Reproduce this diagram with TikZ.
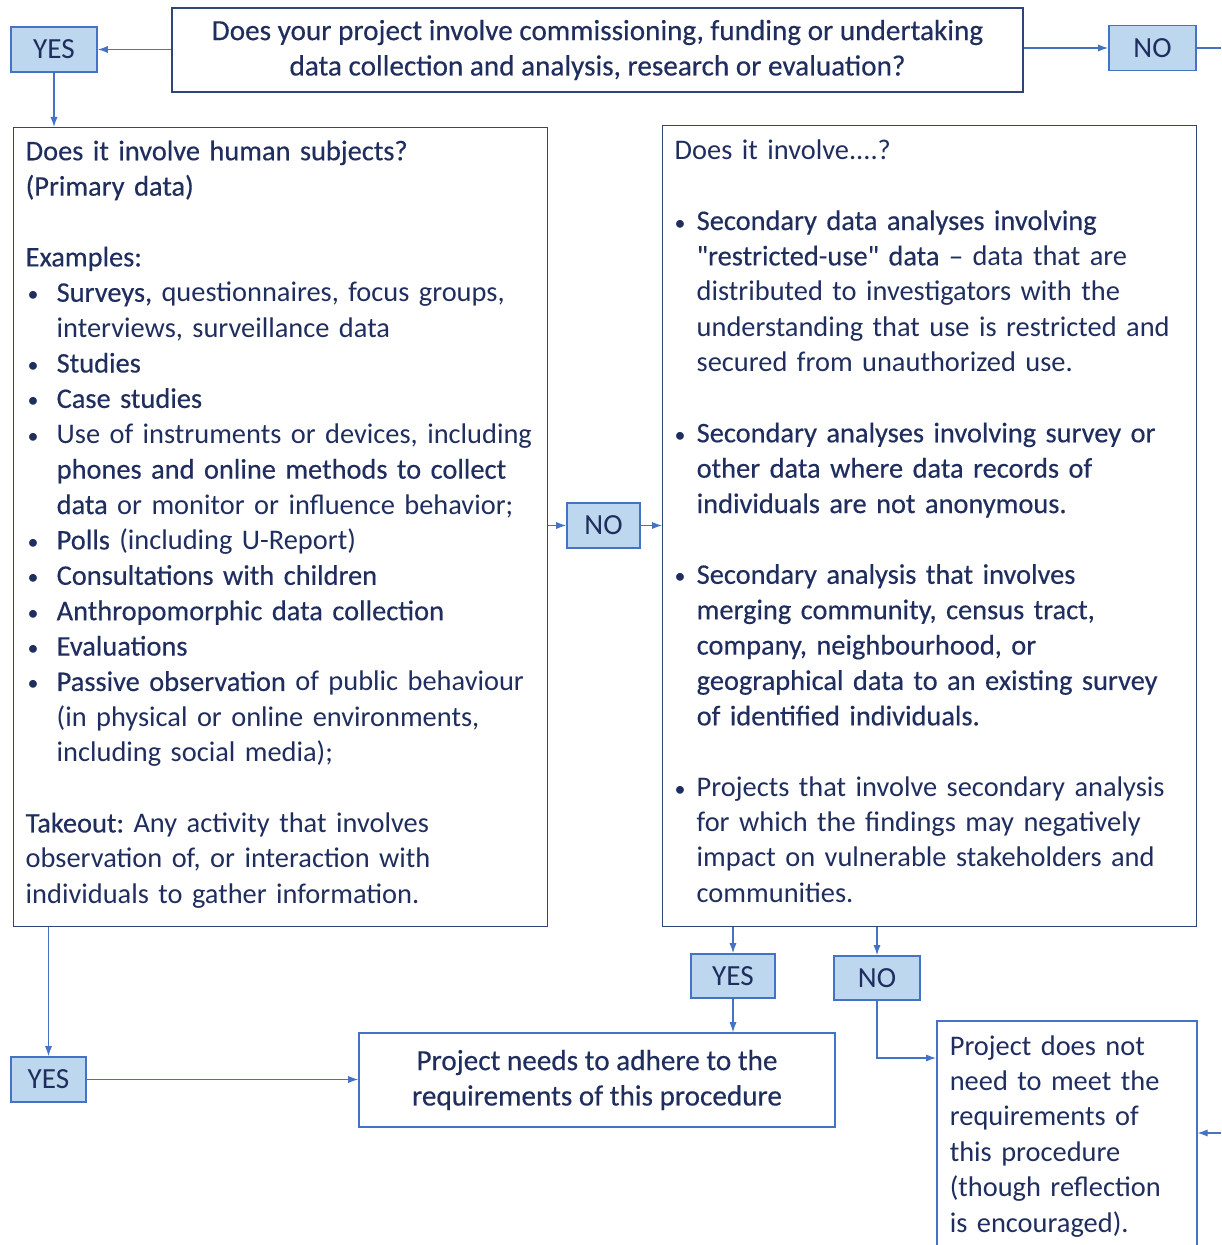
\documentclass[tikz,border=0pt]{standalone}
\usepackage{fontspec}
\setmainfont{Carlito}
\newfontfamily\strongfont[FakeBold=0.35]{Carlito}
\usepackage{xcolor}
\usetikzlibrary{arrows.meta,positioning,calc}

\definecolor{inkblue}{HTML}{1F2E5E}
\definecolor{framenavy}{HTML}{2F4477}
\definecolor{lineblue}{HTML}{4472C4}
\definecolor{answerfill}{HTML}{BDD7EE}

\newcommand{\hl}[1]{{\strongfont #1}}
\newcommand{\bl}[2][15.5pt]{\makebox[#1][l]{\hspace{#2}{\fontsize{11pt}{11pt}\selectfont•}}}
\newcommand{\ind}[1][15.5pt]{\hspace*{#1}}

\begin{document}
\frenchspacing
\fontsize{14.6pt}{17.69pt}\selectfont
\begin{tikzpicture}[
    x=0.5pt, y=-0.5pt,
    every node/.append style={text=inkblue},
    % box styles
    question/.style={rectangle, draw=framenavy, line width=0.7pt, align=center,
        inner sep=0pt, font=\strongfont},
    answer/.style={rectangle, draw=lineblue, fill=answerfill, line width=0.9pt,
        minimum height=22.5pt, inner sep=0pt},
    panel/.style={rectangle, draw=framenavy, line width=0.7pt, anchor=north west,
        align=left, text width=255pt, inner xsep=6pt, inner ysep=0pt,
        font=\fontsize{14.2pt}{17.69pt}\selectfont,
        execute at begin node={\hyphenpenalty=10000\rightskip=-40pt plus 1fil\relax}},
    outcome/.style={rectangle, draw=lineblue, line width=0.8pt},
    % connector styles
    arrow/.style={-{Latex[length=5pt,width=3.6pt]}, draw=lineblue, line width=0.6pt},
    link/.style={draw=lineblue, line width=0.6pt}
]
    \path[use as bounding box, fill=white] (0,0) rectangle (1221,1245);

    % First question and its answers
    \node[question, minimum width=425.5pt, minimum height=42pt] (ask) at (597.5,50)
        {Does your project involve commissioning, funding or undertaking\\
         data collection and analysis, research or evaluation?};
    \node[answer, minimum width=43pt] (yestop) at (54,49.5) {YES};
    \node[answer, minimum width=43.5pt] (notop) at (1152.5,48) {NO};
    \coordinate (offtop) at (1221,48);

    % Primary data
    \node[panel, minimum height=399.5pt] (human) at (13,127) {%
        \hl{Does it involve human subjects?}\\
        \hl{(Primary data)}\\
        \mbox{}\\
        \hl{Examples:}\\
        \bl{1pt}\hl{Surveys,} questionnaires,\ focus groups,\\
        \ind interviews,\ surveillance data\\
        \bl{1pt}\hl{Studies}\\
        \bl{1pt}\hl{Case studies}\\
        \bl{1pt}Use of instruments or devices, including\\
        \ind\hl{phones and online methods to collect}\\
        \ind\hl{data} or monitor or influence behavior;\\
        \bl{1pt}\hl{Polls} (including U-Report)\\
        \bl{1pt}\hl{Consultations with children}\\
        \bl{1pt}\hl{Anthropomorphic data collection}\\
        \bl{1pt}\hl{Evaluations}\\
        \bl{1pt}\hl{Passive observation} of public behaviour\\
        \ind(in physical or online environments,\\
        \ind including social media);\\
        \mbox{}\\
        \hl{Takeout:} Any activity that involves\\
        observation of, or interaction with\\
        individuals to gather information.\strut};

    \node[answer, minimum width=36.5pt] (nomid) at (603.5,525.5) {NO};

    % Secondary data
    \node[panel, minimum height=400.5pt] (involve) at (662,125) {%
        Does it involve....?\\
        \mbox{}\\
        \bl[11pt]{0pt}\hl{Secondary data analyses involving}\\
        \ind[11pt]\hl{"restricted-use" data –} data that are\\
        \ind[11pt]distributed to investigators with the\\
        \ind[11pt]understanding that use is restricted and\\
        \ind[11pt]secured from unauthorized use.\\
        \mbox{}\\
        \bl[11pt]{0pt}\hl{Secondary analyses involving survey or}\\
        \ind[11pt]\hl{other data where data records of}\\
        \ind[11pt]\hl{individuals are not anonymous.}\\
        \mbox{}\\
        \bl[11pt]{0pt}\hl{Secondary analysis that involves}\\
        \ind[11pt]\hl{merging community, census tract,}\\
        \ind[11pt]\hl{company, neighbourhood, or}\\
        \ind[11pt]\hl{geographical data to an existing survey}\\
        \ind[11pt]\hl{of identified individuals.}\\
        \mbox{}\\
        \bl[11pt]{0pt}Projects that involve secondary analysis\\
        \ind[11pt]for which the findings may negatively\\
        \ind[11pt]impact on vulnerable stakeholders and\\
        \ind[11pt]communities.\strut};

    \node[answer, minimum width=42pt, minimum height=22pt] (yesmid) at (733,976) {YES};
    \node[answer, minimum width=43pt, minimum height=22pt] (nobot) at (877,978) {NO};
    \node[answer, minimum width=37.5pt] (yesleft) at (48.5,1079.5) {YES};

    % Outcomes
    \node[outcome, minimum width=238pt, minimum height=47pt, align=center,
        font=\strongfont] (adhere) at (597,1080)
        {Project needs to adhere to the\\ requirements of this procedure};
    \node[outcome, anchor=north west, align=left, text width=117pt,
        inner xsep=6.5pt, inner ysep=7.3pt,
        font=\fontsize{14.2pt}{17.69pt}\selectfont] (exempt) at (936,1020) {%
        Project does not\\
        need to meet the\\
        requirements\ of\\
        this procedure\\
        (though reflection\\
        is encouraged).\strut};
    \coordinate (entry) at ([yshift=-19pt]exempt.north west);
    \coordinate (offbot) at (1221,1133);

    % Connectors
    \draw[arrow] (ask.west |- yestop.east) -- (yestop.east);
    \draw[arrow] (ask.east |- notop.west) -- (notop.west);
    \draw[link] (notop.east) -- (offtop);
    \draw[arrow] (yestop.south) -- (yestop.south |- human.north);
    \draw[arrow] (human.east |- nomid.west) -- (nomid.west);
    \draw[arrow] (nomid.east) -- (nomid.east -| involve.west);
    \draw[arrow] (human.south -| yesleft.north) -- (yesleft.north);
    \draw[arrow] (yesleft.east) -- (yesleft.east -| adhere.west);
    \draw[arrow] (involve.south -| yesmid.north) -- (yesmid.north);
    \draw[arrow] (involve.south -| nobot.north) -- (nobot.north);
    \draw[arrow] (yesmid.south) -- (yesmid.south |- adhere.north);
    \draw[arrow] (nobot.south) |- (entry);
    \draw[arrow] (offbot) -- (offbot -| exempt.east);
\end{tikzpicture}
\end{document}
